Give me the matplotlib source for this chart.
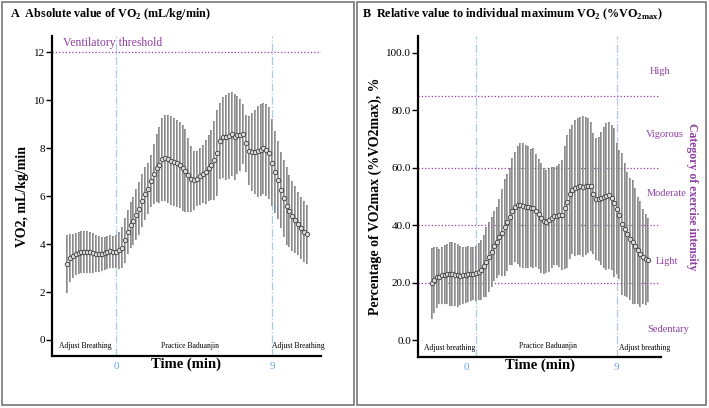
import numpy as np
import matplotlib
matplotlib.use('Agg')
import matplotlib.pyplot as plt
from matplotlib.patches import Rectangle
from matplotlib.ticker import FormatStrFormatter
from matplotlib.transforms import ScaledTranslation

plt.rcParams['font.family'] = ['Liberation Serif', 'DejaVu Serif']
plt.rcParams['mathtext.fontset'] = 'custom'
plt.rcParams['mathtext.rm'] = 'Liberation Serif'
plt.rcParams['mathtext.bf'] = 'Liberation Serif:bold'

# one sample every 10 s, from -170 s to 660 s
time_sec = np.arange(-170, 661, 10)
time_min = time_sec / 60

# panel A: VO2 (mL/kg/min), mean and SD
vo2_mean = [3.17, 3.40, 3.50, 3.58, 3.63, 3.66, 3.67, 3.67, 3.66, 3.63,
            3.60, 3.58, 3.59, 3.61, 3.65, 3.69, 3.67, 3.68, 3.74, 3.85,
            4.15, 4.50, 4.78, 4.95, 5.22, 5.47, 5.80, 6.10, 6.30, 6.63,
            6.94, 7.17, 7.30, 7.53, 7.60, 7.55, 7.48, 7.42, 7.36, 7.30,
            7.17, 7.06, 6.88, 6.70, 6.65, 6.72, 6.82, 6.92, 7.00, 7.17,
            7.30, 7.50, 7.80, 8.30, 8.45, 8.45, 8.50, 8.58, 8.47, 8.54,
            8.55, 8.58, 8.20, 7.90, 7.85, 7.83, 7.86, 7.92, 8.00, 7.92,
            7.78, 7.40, 7.00, 6.67, 6.25, 5.90, 5.60, 5.36, 5.17, 5.02,
            4.85, 4.68, 4.52, 4.40]
vo2_sd = [1.22, 1.00, 0.90, 0.88, 0.86, 0.87, 0.88, 0.87, 0.85, 0.82,
          0.78, 0.74, 0.72, 0.70, 0.68, 0.68, 0.66, 0.68, 0.78, 0.85,
          0.92, 0.92, 0.96, 1.00, 1.06, 1.10, 1.10, 1.10, 1.06, 1.10,
          1.25, 1.40, 1.58, 1.72, 1.80, 1.82, 1.85, 1.85, 1.82, 1.80,
          1.80, 1.72, 1.55, 1.38, 1.25, 1.15, 1.18, 1.22, 1.32, 1.38,
          1.45, 1.65, 1.80, 1.60, 1.68, 1.77, 1.80, 1.75, 1.78, 1.62,
          1.50, 1.25, 1.20, 1.45, 1.62, 1.75, 1.88, 1.92, 1.90, 1.92,
          1.92, 1.80, 1.72, 1.62, 1.60, 1.60, 1.62, 1.50, 1.45, 1.40,
          1.32, 1.30, 1.28, 1.22]

# panel B: %VO2max, mean and SD
pct_mean = [19.7, 20.9, 21.8, 22.1, 22.5, 22.8, 23.0, 23.0, 23.0, 22.8,
            22.5, 22.4, 22.5, 22.7, 22.9, 23.0, 23.1, 23.3, 23.8, 24.4,
            25.8, 27.3, 29.0, 30.8, 32.7, 34.0, 35.8, 37.4, 39.2, 41.0,
            43.0, 44.8, 46.4, 47.0, 47.0, 46.8, 46.5, 46.3, 46.0, 45.9,
            45.0, 44.0, 42.6, 41.5, 41.2, 41.8, 42.6, 43.2, 43.3, 43.4,
            43.6, 46.0, 48.2, 50.9, 52.4, 53.0, 53.4, 53.7, 53.4, 53.6,
            53.7, 53.5, 51.0, 49.0, 49.2, 49.4, 49.7, 50.0, 50.4, 49.6,
            47.8, 45.8, 43.6, 40.3, 38.5, 36.8, 35.2, 34.2, 32.6, 31.3,
            30.0, 29.0, 28.1, 27.9]
pct_sd = [12.5, 11.5, 10.5, 9.5, 9.8, 10.3, 10.5, 11.0, 11.3, 11.0,
          11.0, 10.3, 9.9, 9.8, 9.7, 9.4, 9.3, 9.6, 10.0, 10.4,
          10.8, 12.2, 12.2, 12.2, 12.2, 12.5, 13.2, 15.1, 16.8, 16.9,
          16.8, 18.6, 19.1, 20.4, 21.5, 21.7, 21.5, 21.2, 20.5, 20.9,
          19.7, 19.2, 19.2, 18.5, 18.0, 18.0, 17.6, 17.2, 17.3, 18.0,
          19.1, 21.4, 23.2, 22.6, 22.5, 23.7, 23.8, 24.1, 24.6, 23.9,
          23.5, 22.5, 21.0, 21.2, 21.6, 23.2, 24.6, 25.5, 25.6, 25.3,
          26.0, 22.7, 22.4, 24.7, 23.1, 21.8, 21.3, 21.5, 20.2, 18.6,
          18.5, 16.5, 15.9, 14.5]

phase_marks = [0, 9]
vt_level = 12
intensity_cuts = [20, 40, 60, 85]
intensity_names = ['High', 'Vigorous', 'Moderate', 'Light', 'Sedentary']
intensity_label_y = [93.4, 71.4, 51.0, 27.3, 3.7]
intensity_label_x = [0.996, 1.016, 1.025, 1.025, 1.03]

PURPLE = '#8f3fa3'
BLUE_LINE = '#a8cbef'
BLUE_TEXT = '#6aa3e3'


def draw_panel(ax, mean, sd, ylim):
    lo = np.array(mean) - np.array(sd)
    hi = np.array(mean) + np.array(sd)
    ax.vlines(time_min, lo, hi, color='#707070', lw=1.15, zorder=2)
    ax.vlines(time_min, lo, hi, color='#c8c8c8', lw=0.4, zorder=2)
    ax.plot(time_min, mean, 'o', ms=3.2, mfc='#dedede', mec='#454545', mew=0.65, zorder=3)
    for t in phase_marks:
        ax.axvline(t, color=BLUE_LINE, ls='-.', lw=0.9, zorder=1)
    ax.set_xlim(-3.7, 11.82)
    ax.set_ylim(*ylim)
    for s in ['top', 'right']:
        ax.spines[s].set_visible(False)
    for s in ['left', 'bottom']:
        ax.spines[s].set_linewidth(1.6)
    ax.set_xticks(phase_marks)
    ax.set_xticklabels([str(t) for t in phase_marks])
    ax.tick_params(axis='x', length=0, pad=4, labelsize=8, labelcolor=BLUE_TEXT)
    ax.tick_params(axis='y', direction='out', length=4, width=1, pad=1, labelsize=8)
    ax.set_xlabel('Time (min)', fontsize=10.5, fontweight='bold')
    ax.xaxis.set_label_coords(0.5, -0.004)


fig = plt.figure(figsize=(7.09, 4.08), dpi=100)

# panel frames
fig.add_artist(Rectangle((2 / 709, 3 / 408), 352 / 709, 403 / 408, transform=fig.transFigure,
                         fill=False, ec='#6b6b6b', lw=1.1))
fig.add_artist(Rectangle((357 / 709, 3 / 408), 349 / 709, 403 / 408, transform=fig.transFigure,
                         fill=False, ec='#6b6b6b', lw=1.1))

# A
axA = fig.add_axes([0.0733, 0.1275, 0.3794, 0.784])
draw_panel(axA, vo2_mean, vo2_sd, (-0.667, 12.67))
axA.set_yticks(np.arange(0, 13, 2))
axA.axhline(vt_level, color=PURPLE, ls=':', lw=0.9, zorder=1)
axA.text(0.041, 12.37, 'Ventilatory threshold', transform=axA.get_yaxis_transform(),
         color=PURPLE, fontsize=8.5, va='center', ha='left')
axA.set_ylabel('VO2, mL/kg/min', fontsize=10, fontweight='bold')
axA.yaxis.set_label_coords(-0.085, 0.5)
for x, lab in [(0.123, 'Adjust Breathing'), (0.513, 'Practice Baduanjin'), (0.915, 'Adjust Breathing')]:
    axA.text(x, 0.03, lab, transform=axA.transAxes, fontsize=5.5, ha='center', va='center')
fig.text(10 / 709, 1 - 14 / 408, r'A  Absolute value of VO$_{\mathbf{2}}$ (mL/kg/min)',
         fontsize=8.7, fontweight='bold', va='center', ha='left')

# B
axB = fig.add_axes([0.5896, 0.125, 0.3427, 0.787])
draw_panel(axB, pct_mean, pct_sd, (-5.9, 105.9))
axB.set_yticks(np.arange(0, 101, 20))
axB.yaxis.set_major_formatter(FormatStrFormatter('%.1f'))
for c in intensity_cuts:
    axB.axhline(c, xmax=0.99, color=PURPLE, ls=':', lw=0.9, zorder=1)
for name, x, y in zip(intensity_names, intensity_label_x, intensity_label_y):
    axB.text(x, y, name, transform=axB.get_yaxis_transform(), color=PURPLE,
             fontsize=7.5, ha='center', va='center')
axB.set_ylabel('Percentage of VO2max (%VO2max), %', fontsize=10, fontweight='bold')
axB.yaxis.set_label_coords(-0.15, 0.5)
lab0 = axB.get_xticklabels()[0]
lab0.set_transform(lab0.get_transform() + ScaledTranslation(-0.1, 0, fig.dpi_scale_trans))
for x, y, lab in [(0.128, 0.028, 'Adjust breathing'), (0.535, 0.034, 'Practice Baduanjin'),
                  (0.934, 0.028, 'Adjust breathing')]:
    axB.text(x, y, lab, transform=axB.transAxes, fontsize=5.5, ha='center', va='center')
fig.text(692 / 709, 1 - 197 / 408, 'Category of exercise intensity', rotation=270,
         color=PURPLE, fontsize=8.5, fontweight='bold', ha='center', va='center')
fig.text(362 / 709, 1 - 14 / 408,
         r'B  Relative value to individual maximum VO$_{\mathbf{2}}$ (%VO$_{\mathbf{2max}}$)',
         fontsize=8.7, fontweight='bold', va='center', ha='left')

fig.savefig('out.png', dpi=100)
